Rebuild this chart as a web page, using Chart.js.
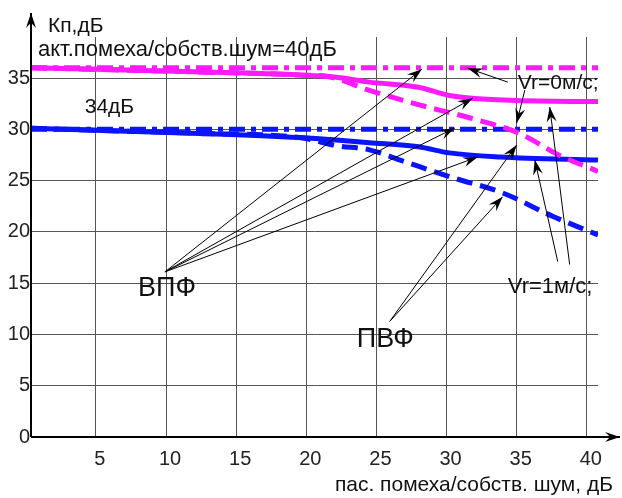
<!DOCTYPE html>
<html>
<head>
<meta charset="utf-8">
<script src="https://cdn.jsdelivr.net/npm/chart.js@4.4.1/dist/chart.umd.min.js"></script>
<style>
  body { margin: 0; background: #fff; }
</style>
</head>
<body>
<canvas id="grafico" width="622" height="498"></canvas>
<script>
// Dados (x = пас. помеха/собств. шум, дБ ; y = Кп, дБ)
const magentaDashDotX = [0.37, 40.8];
const magentaDashDotY = [36.0, 36.0];

const magentaSolidX = [0.37, 12, 19.5, 22, 24.5, 28, 30.2, 32, 35, 40.8];
const magentaSolidY = [36.0, 35.6, 35.3, 35.1, 34.6, 34.1, 33.3, 33.0, 32.8, 32.7];

const magentaDashedX = [0.37, 12, 19.5, 21.7, 24.5, 28, 31.7, 35.2, 38, 40.8];
const magentaDashedY = [36.0, 35.6, 35.3, 35.1, 33.8, 32.4, 31.1, 29.6, 27.5, 25.9];

const blueDashDotX = [0.37, 40.8];
const blueDashDotY = [30.0, 30.0];

const blueSolidX = [0.37, 12.4, 19.5, 21.7, 24.5, 28, 30.2, 33.8, 40.8];
const blueSolidY = [30.1, 29.6, 29.2, 29.0, 28.7, 28.3, 27.7, 27.3, 27.0];

const blueDashedX = [0.37, 12.4, 19.5, 22.2, 24.5, 26.9, 30.4, 34, 37.6, 40.8];
const blueDashedY = [30.1, 29.6, 29.2, 28.4, 28.0, 26.9, 25.3, 23.8, 21.5, 19.7];

// marcas dos eixos
const xTicks = [5, 10, 15, 20, 25, 30, 35, 40];
const yTicks = [0, 5, 10, 15, 20, 25, 30, 35];

// setas das anotações: [x0, y0, x1, y1] em unidades do gráfico
const setas = [
    [9.92, 16.1, 28.24, 35.86],
    [9.92, 16.1, 31.87, 33.04],
    [9.92, 16.1, 30.59, 30.13],
    [9.92, 16.1, 32.23, 27.31],
    [25.95, 11.27, 35.0, 28.47],
    [25.95, 11.27, 34.0, 23.42],
    [34.37, 34.6, 31.51, 35.96],
    [35.58, 33.82, 35.0, 30.61],
    [37.93, 17.1, 36.29, 27.02],
    [38.78, 16.81, 37.36, 32.17]
];

// textos: [texto, x, y, tamanho]
const textos = [
    ['Кп,дБ', 1.58, 40.1, 21],
    ['акт.помеха/собств.шум=40дБ', 0.87, 37.7, 22],
    ['34дБ', 4.2, 32.2, 21],
    ['Vr=0м/с;', 35.08, 34.5, 21],
    ['Vr=1м/с;', 34.37, 14.67, 22],
    ['ВПФ', 8.0, 14.48, 27],
    ['ПВФ', 23.6, 9.52, 27]
];

const tituloX = 'пас. помеха/собств. шум, дБ';

function pontos(xs, ys) {
    return xs.map((x, i) => ({ x: x, y: ys[i] }));
}

const fonte = '"Liberation Sans", Arial, sans-serif';

function desenharSeta(ctx, x0, y0, x1, y1) {
    ctx.beginPath();
    ctx.moveTo(x0, y0);
    ctx.lineTo(x1, y1);
    ctx.stroke();
    const ang = Math.atan2(y1 - y0, x1 - x0);
    const len = 15, half = 5;
    const bx = x1 - len * Math.cos(ang), by = y1 - len * Math.sin(ang);
    const nx = x1 - len * 0.65 * Math.cos(ang), ny = y1 - len * 0.65 * Math.sin(ang);
    ctx.beginPath();
    ctx.moveTo(x1, y1);
    ctx.lineTo(bx + half * Math.sin(ang), by - half * Math.cos(ang));
    ctx.lineTo(nx, ny);
    ctx.lineTo(bx - half * Math.sin(ang), by + half * Math.cos(ang));
    ctx.closePath();
    ctx.fill();
}

const anotacoes = {
    id: 'anotacoes',
    afterDraw(chart) {
        const ctx = chart.ctx;
        const sx = chart.scales.x, sy = chart.scales.y;
        const area = chart.chartArea;
        ctx.save();
        ctx.strokeStyle = '#000';
        ctx.fillStyle = '#000';

        // eixos com setas
        ctx.lineWidth = 2;
        ctx.beginPath();
        ctx.moveTo(area.left, area.bottom);
        ctx.lineTo(612, area.bottom);
        ctx.moveTo(area.left, area.bottom);
        ctx.lineTo(area.left, 20);
        ctx.stroke();
        desenharSeta(ctx, 600, area.bottom, 620, area.bottom);
        desenharSeta(ctx, area.left, 30, area.left, 13);

        ctx.lineWidth = 1;
        setas.forEach(s => {
            desenharSeta(ctx, sx.getPixelForValue(s[0]), sy.getPixelForValue(s[1]),
                sx.getPixelForValue(s[2]), sy.getPixelForValue(s[3]));
        });

        ctx.fillStyle = '#111';
        ctx.textAlign = 'left';
        ctx.textBaseline = 'middle';
        textos.forEach(t => {
            ctx.font = t[3] + 'px ' + fonte;
            ctx.fillText(t[0], sx.getPixelForValue(t[1]), sy.getPixelForValue(t[2]));
        });

        ctx.font = '21px ' + fonte;
        ctx.textAlign = 'right';
        ctx.fillText(tituloX, 613, 485);
        ctx.restore();
    }
};

const ctxGrafico = document.getElementById('grafico');

const chart = new Chart(ctxGrafico, {
    type: 'line',
    data: {
        datasets: [
            {
                label: 'ВПФ Vr=0',
                data: pontos(magentaSolidX, magentaSolidY),
                borderColor: '#ff1aff',
                borderWidth: 5,
                cubicInterpolationMode: 'monotone'
            },
            {
                label: 'ПВФ Vr=0',
                data: pontos(magentaDashedX, magentaDashedY),
                borderColor: '#ff1aff',
                borderWidth: 5,
                borderDash: [16, 8],
                cubicInterpolationMode: 'monotone'
            },
            {
                label: '40дБ',
                data: pontos(magentaDashDotX, magentaDashDotY),
                borderColor: '#ff1aff',
                borderWidth: 5,
                borderDash: [16, 6, 5, 6]
            },
            {
                label: 'ВПФ Vr=1',
                data: pontos(blueSolidX, blueSolidY),
                borderColor: '#0a14ff',
                borderWidth: 5,
                cubicInterpolationMode: 'monotone'
            },
            {
                label: 'ПВФ Vr=1',
                data: pontos(blueDashedX, blueDashedY),
                borderColor: '#0a14ff',
                borderWidth: 5,
                borderDash: [16, 8],
                cubicInterpolationMode: 'monotone'
            },
            {
                label: '34дБ',
                data: pontos(blueDashDotX, blueDashDotY),
                borderColor: '#0a14ff',
                borderWidth: 5,
                borderDash: [16, 6, 5, 6]
            }
        ]
    },
    options: {
        responsive: false,
        animation: false,
        devicePixelRatio: 1,
        layout: {
            padding: { top: 37, right: 24, left: 0, bottom: 0 }
        },
        elements: {
            point: { radius: 0 },
            line: { borderCapStyle: 'butt', fill: false }
        },
        scales: {
            x: {
                type: 'linear',
                min: 0.37,
                max: 40.8,
                afterBuildTicks: (scale) => { scale.ticks = xTicks.map(v => ({ value: v })); },
                afterFit: (scale) => { scale.height = 61; },
                grid: { color: '#555', lineWidth: 1, drawTicks: false },
                border: { display: false },
                ticks: {
                    autoSkip: false,
                    maxRotation: 0,
                    padding: 10,
                    labelOffset: 4,
                    color: '#222',
                    font: { family: fonte, size: 20 }
                }
            },
            y: {
                type: 'linear',
                min: 0,
                max: 39,
                afterBuildTicks: (scale) => { scale.ticks = yTicks.map(v => ({ value: v })); },
                afterFit: (scale) => { scale.width = 31; },
                grid: { color: '#555', lineWidth: 1, drawTicks: false },
                border: { display: false },
                ticks: {
                    autoSkip: false,
                    padding: 1,
                    color: '#222',
                    font: { family: fonte, size: 20 }
                }
            }
        },
        plugins: {
            legend: { display: false },
            tooltip: { enabled: false }
        }
    },
    plugins: [anotacoes]
});
</script>
</body>
</html>
